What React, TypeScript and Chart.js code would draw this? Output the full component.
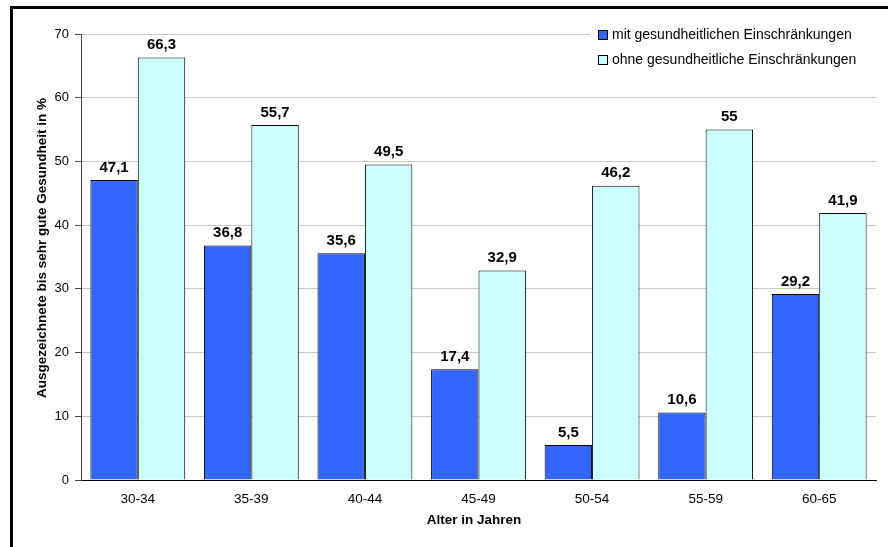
import React, { useEffect, useRef } from "react";
import { Chart, registerables } from "chart.js";

Chart.register(...registerables);

const categories = ["30-34", "35-39", "40-44", "45-49", "50-54", "55-59", "60-65"];
const mitValues = [47.1, 36.8, 35.6, 17.4, 5.5, 10.6, 29.2];
const ohneValues = [66.3, 55.7, 49.5, 32.9, 46.2, 55, 41.9];
const seriesNames = ["mit gesundheitlichen Einschränkungen", "ohne gesundheitliche Einschränkungen"];
const yTitle = "Ausgezeichnete bis sehr gute Gesundheit in %";
const xTitle = "Alter in Jahren";

const FONT = "Arial, 'Liberation Sans', sans-serif";

const overlayPlugin = {
  id: "overlay",
  afterDatasetsDraw(chart: any) {
    const ctx = chart.ctx;
    ctx.save();
    // data labels
    ctx.font = `bold 15px ${FONT}`;
    ctx.fillStyle = "#000";
    ctx.textAlign = "center";
    ctx.textBaseline = "bottom";
    chart.data.datasets.forEach((ds: any, di: number) => {
      const meta = chart.getDatasetMeta(di);
      meta.data.forEach((bar: any, i: number) => {
        const v = ds.data[i];
        const txt = String(v).replace(".", ",");
        ctx.fillText(txt, bar.x, bar.y - 5);
      });
    });
    // legend
    ctx.fillStyle = "#fff";
    ctx.fillRect(590, 22, 290, 52);
    const colors = ["#3366FF", "#CCFFFF"];
    const rows = [35, 60];
    ctx.font = `14px ${FONT}`;
    ctx.textAlign = "left";
    ctx.textBaseline = "middle";
    seriesNames.forEach((n, i) => {
      ctx.fillStyle = colors[i];
      ctx.fillRect(598.5, rows[i] - 4.5, 9, 9);
      ctx.strokeStyle = "#000";
      ctx.lineWidth = 1;
      ctx.strokeRect(598.5, rows[i] - 4.5, 9, 9);
      ctx.fillStyle = "#000";
      ctx.fillText(n, 612, rows[i]);
    });
    // axis titles
    ctx.font = `bold 13.5px ${FONT}`;
    ctx.textAlign = "center";
    ctx.textBaseline = "middle";
    ctx.fillText(xTitle, 474, 520);
    ctx.translate(42, 248);
    ctx.rotate(-Math.PI / 2);
    ctx.fillText(yTitle, 0, 0);
    ctx.restore();
  },
};

export default function App() {
  const ref = useRef<HTMLCanvasElement | null>(null);
  useEffect(() => {
    if (!ref.current) return;
    const chart = new Chart(ref.current, {
      type: "bar",
      data: {
        labels: categories,
        datasets: [
          {
            label: seriesNames[0],
            data: mitValues,
            backgroundColor: "#3366FF",
            borderColor: "#000",
            borderWidth: 1,
            categoryPercentage: 0.835,
            barPercentage: 1.0,
          },
          {
            label: seriesNames[1],
            data: ohneValues,
            backgroundColor: "#CCFFFF",
            borderColor: "#000",
            borderWidth: 1,
            categoryPercentage: 0.835,
            barPercentage: 1.0,
          },
        ],
      },
      options: {
        animation: false,
        responsive: false,
        devicePixelRatio: 1,
        layout: { padding: { left: 0, top: 34, right: 12, bottom: 0 } },
        plugins: { legend: { display: false }, tooltip: { enabled: false } },
        scales: {
          x: {
            grid: { display: false, drawTicks: false },
            border: { display: true, color: "#000", width: 1 },
            ticks: { color: "#000", font: { family: FONT, size: 13.5 }, padding: 11 },
            afterFit: (s: any) => {
              s.height = 67;
            },
          },
          y: {
            min: 0,
            max: 70,
            ticks: { stepSize: 10, color: "#000", font: { family: FONT, size: 13 }, padding: 6 },
            grid: { color: "#c8c8c8", tickColor: "#444", tickLength: 6, lineWidth: 1 },
            border: { display: true, color: "#444", width: 1 },
            afterFit: (s: any) => {
              s.width = 81;
            },
          },
        },
      },
      plugins: [overlayPlugin],
    });
    return () => chart.destroy();
  }, []);
  return (
    <div style={{ position: "absolute", left: 0, top: 0, width: 888, height: 547, background: "#fff" }}>
      <canvas ref={ref} width={888} height={547} style={{ position: "absolute", left: 0, top: 0 }} />
      <div
        style={{
          position: "absolute",
          left: 10,
          top: 6,
          width: 878,
          height: 541,
          borderLeft: "3px solid #000",
          borderTop: "3px solid #000",
          boxSizing: "border-box",
          pointerEvents: "none",
        }}
      />
    </div>
  );
}
